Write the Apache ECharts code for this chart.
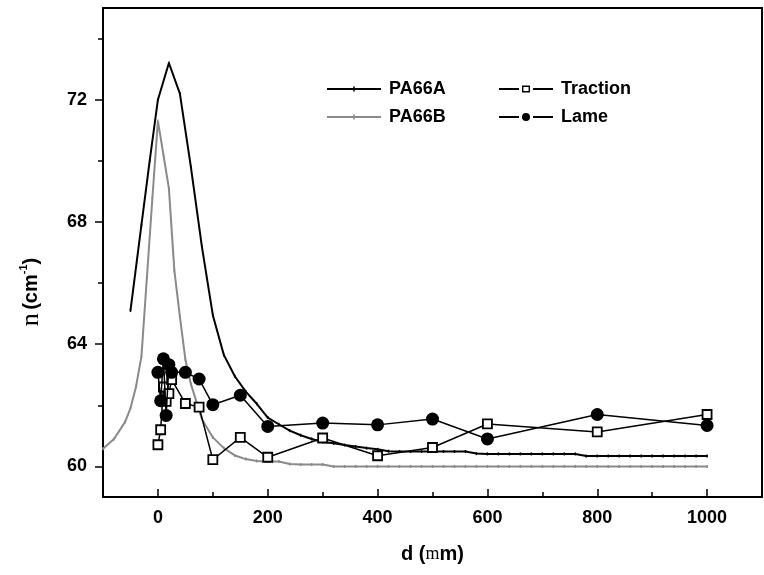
<!DOCTYPE html>
<html>
<head>
<meta charset="utf-8">
<script src="https://cdn.jsdelivr.net/npm/echarts@6/dist/echarts.min.js"></script>
<style>html,body{margin:0;padding:0;background:#fff}#c{width:764px;height:575px}</style>
</head>
<body>
<div id="c"></div>
<script>
// ---- data ----
const pa66aX = [-50,-30,-15,0,20,40,60,80,100,120,140,160,180,200,220,240,260,280,300,320,340,360,380,400,420,440,460,480,500,520,540,560,580,600,620,640,660,680,700,720,740,760,780,800,820,840,860,880,900,920,940,960,980,1000];
const pa66aY = [65.1,67.9,70.0,72.0,73.2,72.2,69.8,67.2,64.95,63.65,62.95,62.45,62.05,61.6,61.38,61.17,61.02,60.9,60.8,60.76,60.7,60.65,60.6,60.56,60.5,60.49,60.49,60.49,60.49,60.49,60.49,60.49,60.42,60.41,60.41,60.41,60.41,60.41,60.41,60.41,60.41,60.41,60.34,60.34,60.34,60.34,60.34,60.34,60.34,60.34,60.34,60.34,60.34,60.34];
const pa66bX = [-100,-80,-60,-50,-40,-30,-20,-10,0,10,20,30,40,50,60,80,100,120,140,160,180,200,220,240,260,280,300,320,340,360,380,400,420,440,460,480,500,520,540,560,580,600,620,640,660,680,700,720,740,760,780,800,820,840,860,880,900,920,940,960,980,1000];
const pa66bY = [60.58,60.9,61.45,61.9,62.6,63.6,66.2,68.8,71.3,70.2,69.1,66.4,64.9,63.5,62.7,61.55,60.95,60.6,60.36,60.24,60.18,60.16,60.16,60.08,60.06,60.06,60.06,60.0,60.0,60.0,60.0,60.0,60.0,60.0,60.0,60.0,60.0,60.0,60.0,60.0,60.0,60.0,60.0,60.0,60.0,60.0,60.0,60.0,60.0,60.0,60.0,60.0,60.0,60.0,60.0,60.0,60.0,60.0,60.0,60.0,60.0,60.0];
const tractionX = [0,5,10,15,20,25,50,75,100,150,200,300,400,500,600,800,1000];
const tractionY = [60.71,61.2,62.6,62.13,62.38,62.84,62.06,61.94,60.22,60.95,60.3,60.93,60.35,60.62,61.39,61.13,61.7];
const lameX = [0,5,10,15,20,25,50,75,100,150,200,300,400,500,600,800,1000];
const lameY = [63.08,62.15,63.52,61.67,63.33,63.08,63.08,62.86,62.02,62.33,61.31,61.42,61.36,61.55,60.9,61.7,61.34];
const xMajor = [0,200,400,600,800,1000];
const xMinor = [100,300,500,700,900];
const yMajor = [60,64,68,72];
const yMinor = [62,66,70,74];

const zip = (xs, ys) => xs.map((x, i) => [x, ys[i]]);
const SANS = 'Liberation Sans, Arial, sans-serif';
const SERIF = 'Liberation Serif, Times New Roman, serif';
const lbl = {fontFamily: SANS, fontWeight: 'bold', fontSize: 18, color: '#000', formatter: v => String(v)};
const axLine = {show: true, onZero: false, lineStyle: {color: '#000', width: 2}};
const noLine = {show: false, onZero: false};
const lineIcon = 'path://M0,3H54V5H0Z M26.2,1.5H27.8V6.5H26.2Z';
const squareIcon = 'path://M0,2.4H20V4.6H0Z M34,2.4H54V4.6H34Z M23,0H31V7H23Z M24.4,1.4V5.6H29.6V1.4Z';
const dotIcon = 'path://M0,2.9H20V5.1H0Z M34,2.9H54V5.1H34Z M23,4A4,4 0 1,0 31,4A4,4 0 1,0 23,4Z';
const legText = {fontFamily: SANS, fontWeight: 'bold', fontSize: 18, color: '#000', padding: [0, 0, 0, 3]};

const chart = echarts.init(document.getElementById('c'), null, {renderer: 'canvas'});
chart.setOption({
  animation: false,
  backgroundColor: '#fff',
  grid: {left: 103, right: 2, top: 8, bottom: 78, containLabel: false},
  xAxis: [
    {type: 'value', min: -100, max: 1100, position: 'bottom', axisLine: axLine,
     splitLine: {show: false},
     axisTick: {show: true, inside: true, length: 8, customValues: xMajor, lineStyle: {color: '#000', width: 1.5}},
     axisLabel: Object.assign({customValues: xMajor, margin: 12}, lbl),
     name: '{b|d (}{s|m}{b|m)}', nameLocation: 'middle', nameGap: 47,
     nameTextStyle: {rich: {b: {fontFamily: SANS, fontWeight: 'bold', fontSize: 20, color: '#000'}, s: {fontFamily: SERIF, fontSize: 18, color: '#000'}}}},
    {type: 'value', min: -100, max: 1100, position: 'bottom', axisLine: noLine,
     splitLine: {show: false},
     axisTick: {show: true, inside: true, length: 5, customValues: xMinor, lineStyle: {color: '#000', width: 1.5}},
     axisLabel: {show: false}},
    {type: 'value', min: -100, max: 1100, position: 'top', axisLine: axLine,
     splitLine: {show: false}, axisTick: {show: false}, axisLabel: {show: false}}
  ],
  yAxis: [
    {type: 'value', min: 59, max: 75, position: 'left', axisLine: axLine,
     splitLine: {show: false},
     axisTick: {show: true, inside: false, length: 8, customValues: yMajor, lineStyle: {color: '#000', width: 1.5}},
     axisLabel: Object.assign({customValues: yMajor, margin: 16}, lbl)},
    {type: 'value', min: 59, max: 75, position: 'left', axisLine: noLine,
     splitLine: {show: false},
     axisTick: {show: true, inside: false, length: 5, customValues: yMinor, lineStyle: {color: '#000', width: 1.5}},
     axisLabel: {show: false}},
    {type: 'value', min: 59, max: 75, position: 'right', axisLine: axLine,
     splitLine: {show: false}, axisTick: {show: false}, axisLabel: {show: false}}
  ],
  legend: [
    {data: [{name: 'PA66A', icon: lineIcon}, {name: 'PA66B', icon: lineIcon}], orient: 'vertical', left: 322, top: 75,
     itemWidth: 54, itemHeight: 14, itemGap: 10, textStyle: legText},
    {data: [{name: 'Traction', icon: squareIcon, itemStyle: {color: '#000', borderWidth: 0}},
            {name: 'Lame', icon: dotIcon, itemStyle: {color: '#000', borderWidth: 0}}],
     orient: 'vertical', left: 494, top: 75, itemWidth: 54, itemHeight: 14, itemGap: 10, textStyle: legText}
  ],
  graphic: [
    {type: 'text', x: 31, y: 292, rotation: Math.PI / 2,
     style: {text: '{n|n} {b|(cm}{s|-1}{b|)}', align: 'center', verticalAlign: 'middle',
       rich: {n: {fontFamily: SERIF, fontSize: 26, fill: '#000'},
              b: {fontFamily: SANS, fontWeight: 'bold', fontSize: 20, fill: '#000'},
              s: {fontFamily: SANS, fontWeight: 'bold', fontSize: 11, fill: '#000', verticalAlign: 'top', padding: [0, 0, 10, 0]}}}}
  ],
  series: [
    {name: 'PA66A', type: 'line', data: zip(pa66aX, pa66aY), symbol: 'rect', symbolSize: [1.5, 3],
     lineStyle: {color: '#000', width: 2}, itemStyle: {color: '#000'}, z: 2},
    {name: 'PA66B', type: 'line', data: zip(pa66bX, pa66bY), symbol: 'rect', symbolSize: [1.5, 3],
     lineStyle: {color: '#8a8a8a', width: 2}, itemStyle: {color: '#8a8a8a'}, z: 2},
    {name: 'Traction', type: 'line', data: zip(tractionX, tractionY), symbol: 'rect', symbolSize: 9,
     lineStyle: {color: '#000', width: 1.5}, itemStyle: {color: '#fff', borderColor: '#000', borderWidth: 1.8}, z: 3},
    {name: 'Lame', type: 'line', data: zip(lameX, lameY), symbol: 'circle', symbolSize: 13,
     lineStyle: {color: '#000', width: 1.5}, itemStyle: {color: '#000'}, z: 4}
  ]
});
</script>
</body>
</html>
